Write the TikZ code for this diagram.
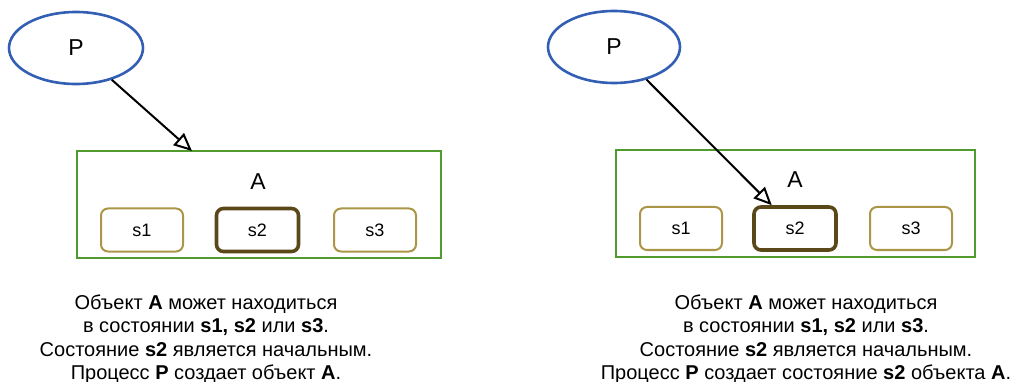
\documentclass[tikz,border=0pt]{standalone}
\usepackage{fontspec}
\setmainfont{Liberation Sans}
\usetikzlibrary{arrows.meta,shapes.geometric}
\definecolor{pblue}{RGB}{50,95,180}
\definecolor{agreen}{RGB}{80,155,45}
\definecolor{solive}{RGB}{170,150,70}
\definecolor{sdark}{RGB}{90,72,25}
\begin{document}
\begin{tikzpicture}[x=1pt,y=-1pt,
  proc/.style={ellipse,draw=pblue,line width=2.6pt,minimum width=134pt,minimum height=72pt,inner sep=0pt,font=\fontsize{23}{26}\selectfont},
  objbox/.style={rectangle,draw=agreen,line width=2.6pt,inner sep=0pt},
  stbox/.style={rectangle,rounded corners=7pt,draw=solive,line width=2pt,minimum width=82pt,minimum height=43pt,inner sep=0pt,font=\fontsize{18}{20}\selectfont},
  stinit/.style={stbox,draw=sdark,line width=3.6pt},
  lbl/.style={font=\fontsize{23}{26}\selectfont,inner sep=0pt},
  captext/.style={align=center,font=\fontsize{20}{23.5}\selectfont,inner sep=0pt},
  link/.style={line width=2pt,-{Triangle[open,length=18pt,width=16pt,line width=2pt]}}]
\useasboundingbox (0,0) rectangle (1012,382);
% left panel
\node[proc] (P1) at (76,48) {P};
\node[objbox,minimum width=364pt,minimum height=107pt] (A1) at (259,204.5) {};
\node[lbl] (AL1) at (258,182) {A};
\node[stbox] (s1L) at (142,230) {s1};
\node[stinit] (s2L) at (257.5,230) {s2};
\node[stbox] (s3L) at (375,230) {s3};
\coordinate (tL) at (192,151);
\draw[link] (P1) -- (tL);
\node[captext] (capL) at (206,339) {Объект \textbf{A} может находиться\\ в состоянии \textbf{s1, s2} или \textbf{s3}.\\ Состояние \textbf{s2} является начальным.\\ Процесс \textbf{P} создает объект \textbf{A}.};
% right panel
\node[proc,minimum width=132pt] (P2) at (614,47) {P};
\node[objbox,minimum width=359pt,minimum height=107pt] (A2) at (795.5,203.5) {};
\node[lbl] (AL2) at (795,180) {A};
\node[stbox] (s1R) at (681,228.5) {s1};
\node[stinit] (s2R) at (795,228.5) {s2};
\node[stbox] (s3R) at (911,228.5) {s3};
\draw[link] (P2) -- (s2R);
\node[captext] (capR) at (806,339) {Объект \textbf{A} может находиться\\ в состоянии \textbf{s1, s2} или \textbf{s3}.\\ Состояние \textbf{s2} является начальным.\\ Процесс \textbf{P} создает состояние \textbf{s2} объекта \textbf{A}.};
\end{tikzpicture}
\end{document}
